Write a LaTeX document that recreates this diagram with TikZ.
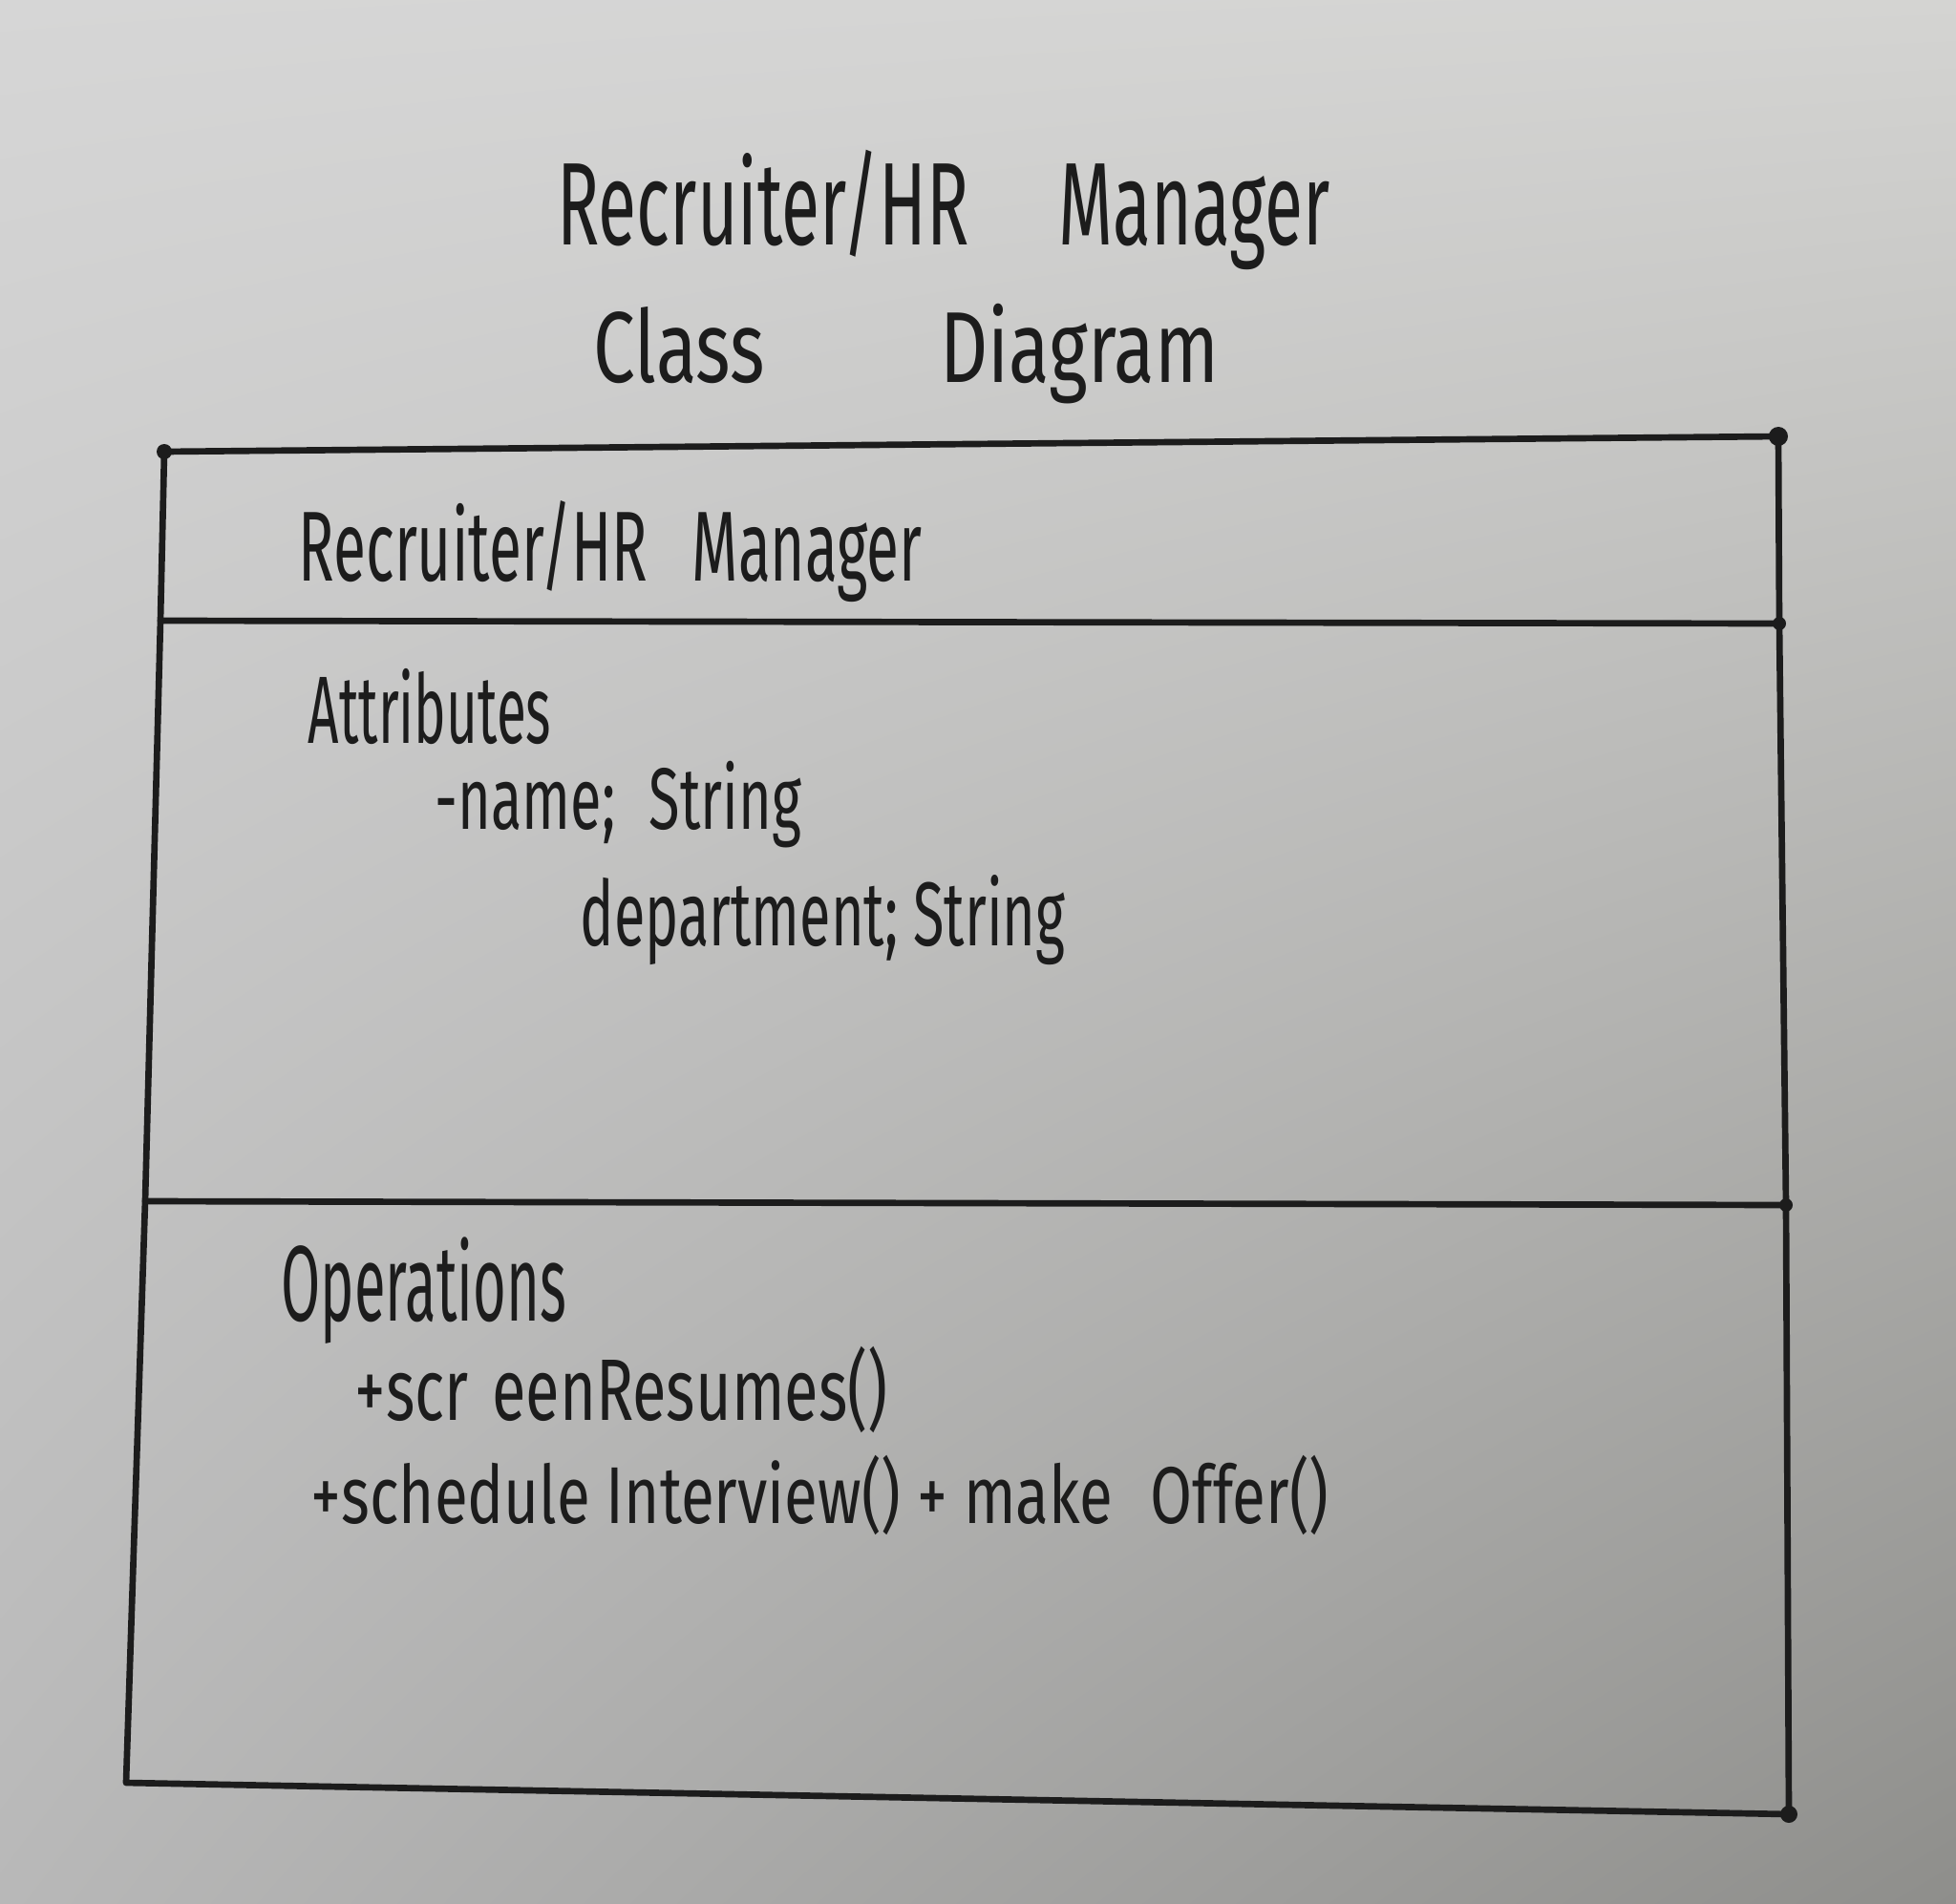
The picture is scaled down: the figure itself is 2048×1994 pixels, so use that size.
\documentclass[tikz,border=0pt]{standalone}
\usepackage{fontspec}
\usepackage{graphicx}
\setmainfont{Fira Sans}
\usetikzlibrary{shadings}
\definecolor{ink}{HTML}{1C1C1C}
\definecolor{paperUL}{HTML}{D6D6D6}
\definecolor{paperUR}{HTML}{D4D4D2}
\definecolor{paperLL}{HTML}{B8B8B8}
\definecolor{paperLR}{HTML}{8E8E8B}
% condensed handwriting-like text: horizontal squeeze only
\newcommand{\handtext}[2]{\scalebox{#1}[1]{#2}}
\begin{document}
\begin{tikzpicture}[x=0.01cm,y=-0.01cm,
  hand/.style={anchor=base west, inner sep=0pt, text=ink},
  rule/.style={draw=ink, line width=1.9pt, line cap=round, line join=round},
  blob/.style={fill=ink, draw=none}]
% sheet of paper
\shade[upper left=paperUL, upper right=paperUR, lower left=paperLL, lower right=paperLR]
  (0,0) rectangle (2048,1994);
\useasboundingbox (0,0) rectangle (2048,1994);

% heading
\node[hand, font=\fontsize{35pt}{40pt}\selectfont] (title1) at (583,257)
  {\handtext{0.595}{Recruiter/HR~\hspace{1.25cm}Manager}};
\node[hand, font=\fontsize{30pt}{36pt}\selectfont] (title2) at (621,400)
  {\handtext{0.74}{Class~\hspace{2.2cm}Diagram}};

% class box corners and compartment dividers
\coordinate (tl) at (172,473);
\coordinate (tr) at (1862,457);
\coordinate (d1l) at (168,650);
\coordinate (d1r) at (1863,653);
\coordinate (d2l) at (152,1258);
\coordinate (d2r) at (1870,1262);
\coordinate (bl) at (132,1867);
\coordinate (br) at (1873,1900);

\draw[rule] (tl) -- (tr) -- (d1r) -- (d2r) -- (br) -- (bl) -- (d2l) -- (d1l) -- cycle;
\draw[rule] (d1l) -- (d1r);
\draw[rule] (d2l) -- (d2r);

% ink blobs where the pen rested
\fill[blob] (tl) circle (8);
\fill[blob] (tr) circle (10);
\fill[blob] (d1r) circle (7);
\fill[blob] (d2r) circle (7);
\fill[blob] (br) circle (9);

% class name compartment
\node[hand, font=\fontsize{29.6pt}{34pt}\selectfont] (cname) at (312,608)
  {\handtext{0.597}{Recruiter/HR~\hspace{0.5cm}Manager}};

% attributes compartment
\node[hand, font=\fontsize{28.5pt}{34pt}\selectfont] (attr) at (322,778)
  {\handtext{0.565}{Attributes}};
\node[hand, font=\fontsize{26pt}{30pt}\selectfont] (aname) at (455,868)
  {\handtext{0.65}{-name;~\hspace{0.3cm}String}};
\node[hand, font=\fontsize{27pt}{32pt}\selectfont] (adept) at (607,990)
  {\handtext{0.625}{department;~String}};

% operations compartment
\node[hand, font=\fontsize{32pt}{38pt}\selectfont] (ops) at (294,1383)
  {\handtext{0.53}{Operations}};
\node[hand, font=\fontsize{26pt}{30pt}\selectfont] (op1) at (371,1487)
  {\handtext{0.71}{+scr\hspace{0.35cm}eenResumes()}};
\node[hand, font=\fontsize{24pt}{28pt}\selectfont] (op2) at (325,1595)
  {\handtext{0.755}{+schedule Interview() + make~\hspace{0.3cm}Offer()}};
\end{tikzpicture}
\end{document}
